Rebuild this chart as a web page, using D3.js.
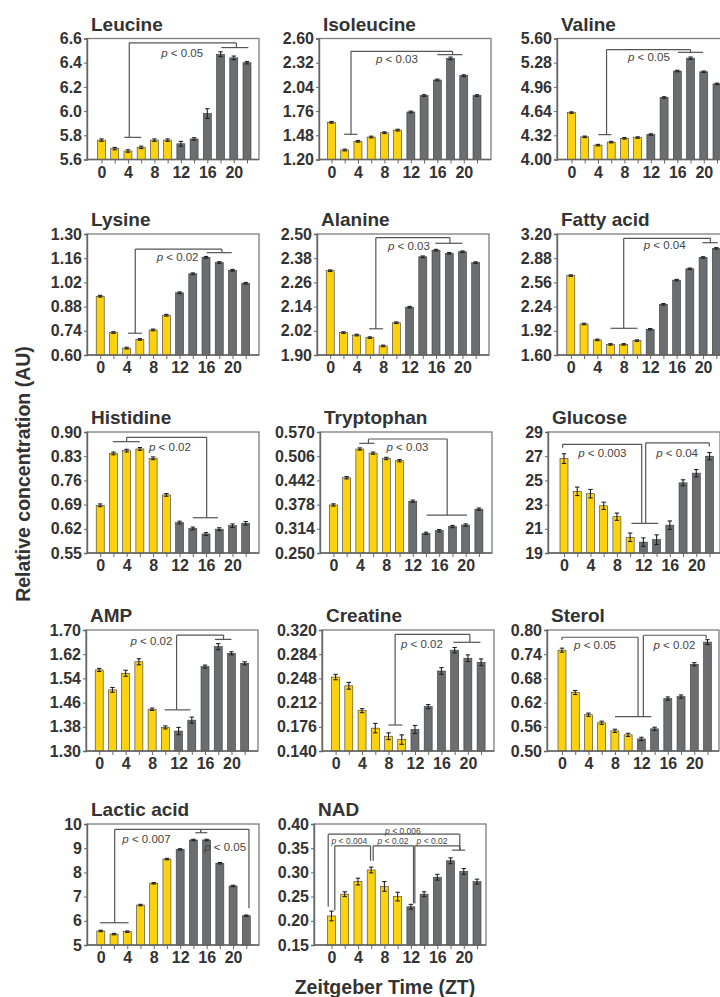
<!DOCTYPE html>
<html><head><meta charset="utf-8">
<script src="https://cdn.jsdelivr.net/npm/d3@7"></script>
<style>
body{margin:0;background:#fff}
svg text{font-family:"Liberation Sans",Arial,Helvetica,sans-serif;}
</style>
</head><body>
<svg id="c" width="720" height="997"></svg>
<script>
// ---------- DATA ----------
const zt = [0,2,4,6,8,10,12,14,16,18,20,22];
const xTickLabels = ["0","4","8","12","16","20"];
const titles = ["Leucine","Isoleucine","Valine","Lysine","Alanine","Fatty acid","Histidine","Tryptophan","Glucose","AMP","Creatine","Sterol","Lactic acid","NAD"];
const yAxisTitle = "Relative concentration (AU)";
const xAxisTitle = "Zeitgeber Time (ZT)";

const leucine = [5.76,5.69,5.67,5.70,5.76,5.76,5.73,5.77,5.98,6.47,6.44,6.40];
const leucineErr = [0.01,0.01,0.01,0.01,0.01,0.01,0.02,0.01,0.04,0.02,0.015,0.01];
const leucineTicks = ["5.6","5.8","6.0","6.2","6.4","6.6"];
const leucineSig = [{top:6.564,l:{x:4.2,y:5.783,cap:[3.45,6.0]},r:{x:20.4,y:6.525,cap:[18.1,22.2]}}];
const leucineP = [{x:12.2,y:6.483,t:"0.05"}];

const isoleucine = [1.63,1.31,1.41,1.46,1.51,1.54,1.75,1.94,2.12,2.37,2.17,1.94];
const isoleucineErr = [0.01,0.01,0.01,0.01,0.01,0.01,0.01,0.01,0.01,0.015,0.01,0.01];
const isoleucineTicks = ["1.20","1.48","1.76","2.04","2.32","2.60"];
const isoleucineSig = [{top:2.452,l:{x:2.95,y:1.492,cap:[1.9,3.9]},r:{x:18.3,y:2.413,cap:[16.0,19.8]}}];
const isoleucineP = [{x:9.9,y:2.367,t:"0.03"}];

const valine = [4.62,4.30,4.19,4.23,4.28,4.29,4.33,4.82,5.17,5.34,5.16,5.00];
const valineErr = [0.01,0.01,0.01,0.01,0.01,0.01,0.01,0.01,0.01,0.015,0.01,0.01];
const valineTicks = ["4.00","4.32","4.64","4.96","5.28","5.60"];
const valineSig = [{top:5.453,l:{x:5.3,y:4.329,cap:[4.05,6.0]},r:{x:18.0,y:5.417,cap:[16.1,19.9]}}];
const valineP = [{x:11.7,y:5.36,t:"0.05"}];

const lysine = [0.94,0.73,0.64,0.69,0.745,0.83,0.96,1.07,1.165,1.135,1.09,1.015];
const lysineErr = [0.005,0.005,0.005,0.005,0.005,0.005,0.005,0.005,0.005,0.005,0.005,0.005];
const lysineTicks = ["0.60","0.74","0.88","1.02","1.16","1.30"];
const lysineSig = [{top:1.213,l:{x:5.3,y:0.726,cap:[4.2,6.3]},r:{x:18.4,y:1.192,cap:[16.1,19.9]}}];
const lysineP = [{x:11.7,y:1.167,t:"0.02"}];

const alanine = [2.318,2.011,1.999,1.986,1.945,2.06,2.137,2.387,2.42,2.404,2.412,2.358];
const alanineErr = [0.004,0.004,0.004,0.004,0.004,0.004,0.004,0.004,0.004,0.004,0.004,0.004];
const alanineTicks = ["1.90","2.02","2.14","2.26","2.38","2.50"];
const alanineSig = [{top:2.482,l:{x:6.9,y:2.030,cap:[5.9,8.0]},r:{x:18.1,y:2.454,cap:[15.9,20.0]}}];
const alanineP = [{x:11.9,y:2.442,t:"0.03"}];

const fattyAcid = [2.65,2.01,1.80,1.74,1.74,1.79,1.94,2.27,2.59,2.74,2.89,3.01];
const fattyAcidErr = [0.01,0.01,0.01,0.01,0.01,0.01,0.01,0.01,0.01,0.01,0.01,0.01];
const fattyAcidTicks = ["1.60","1.92","2.24","2.56","2.88","3.20"];
const fattyAcidSig = [{top:3.143,l:{x:8.0,y:1.953,cap:[6.0,10.1]},r:{x:21.1,y:3.085,cap:[19.9,22.2]}}];
const fattyAcidP = [{x:14.2,y:3.055,t:"0.04"}];

const histidine = [0.688,0.838,0.846,0.851,0.824,0.718,0.638,0.621,0.605,0.619,0.629,0.636];
const histidineErr = [0.004,0.004,0.004,0.004,0.004,0.004,0.004,0.004,0.004,0.004,0.005,0.005];
const histidineTicks = ["0.55","0.62","0.69","0.76","0.83","0.90"];
const histidineSig = [{top:0.8847,l:{x:4.0,y:0.872,cap:[1.9,6.0]},r:{x:16.1,y:0.652,cap:[14.0,17.8]}}];
const histidineP = [{x:10.55,y:0.857,t:"0.02"}];

const tryptophan = [0.377,0.449,0.525,0.514,0.500,0.494,0.387,0.302,0.309,0.320,0.324,0.366];
const tryptophanErr = [0.003,0.003,0.003,0.003,0.003,0.003,0.003,0.003,0.003,0.003,0.003,0.003];
const tryptophanTicks = ["0.250","0.314","0.378","0.442","0.506","0.570"];
const tryptophanSig = [{top:0.5515,l:{x:5.3,y:0.540,cap:[3.9,6.2]},r:{x:17.2,y:0.350,cap:[14.1,20.2]}}];
const tryptophanP = [{x:11.2,y:0.530,t:"0.03"}];

const glucose = [26.8,24.1,23.9,22.9,22.0,20.3,19.9,20.1,21.3,24.8,25.6,27.0];
const glucoseErr = [0.4,0.35,0.35,0.3,0.3,0.35,0.35,0.4,0.35,0.25,0.3,0.3];
const glucoseTicks = ["19","21","23","25","27","29"];
const glucoseSig = [
  {top:27.98,l:{x:-0.2,y:27.7,cap:null},r:{x:11.75,y:21.45,cap:[10.2,14.25]}},
  {top:28.1,l:{x:12.35,y:21.45,cap:null},r:{x:21.97,y:27.8,cap:null}}
];
const glucoseP = [{x:5.8,y:27.24,t:"0.003"},{x:17.1,y:27.24,t:"0.04"}];

const amp = [1.568,1.502,1.557,1.595,1.438,1.378,1.366,1.402,1.579,1.645,1.623,1.59];
const ampErr = [0.005,0.008,0.01,0.01,0.004,0.005,0.012,0.01,0.005,0.01,0.005,0.005];
const ampTicks = ["1.30","1.38","1.46","1.54","1.62","1.70"];
const ampSig = [{top:1.683,l:{x:11.7,y:1.436,cap:[9.9,13.8]},r:{x:18.8,y:1.669,cap:[17.5,20.0]}}];
const ampP = [{x:7.9,y:1.665,t:"0.02"}];

const creatine = [0.250,0.237,0.200,0.174,0.162,0.157,0.172,0.206,0.259,0.290,0.278,0.272];
const creatineErr = [0.004,0.005,0.003,0.007,0.005,0.007,0.006,0.003,0.005,0.004,0.005,0.005];
const creatineTicks = ["0.140","0.176","0.212","0.248","0.284","0.320"];
const creatineSig = [{top:0.3136,l:{x:9.0,y:0.1787,cap:[8.0,10.1]},r:{x:20.3,y:0.3017,cap:[17.8,21.9]}}];
const creatineP = [{x:13.05,y:0.2987,t:"0.02"}];

const sterol = [0.75,0.645,0.59,0.57,0.55,0.54,0.53,0.555,0.63,0.635,0.715,0.77];
const sterolErr = [0.005,0.005,0.004,0.004,0.004,0.004,0.004,0.004,0.004,0.004,0.004,0.006];
const sterolTicks = ["0.50","0.56","0.62","0.68","0.74","0.80"];
const sterolSig = [
  {top:0.782,l:{x:0,y:0.775,cap:null},r:{x:11.5,y:0.585,cap:[8,13.5]}},
  {top:0.787,l:{x:12.3,y:0.585,cap:null},r:{x:21.8,y:0.779,cap:null}}
];
const sterolP = [{x:5,y:0.763,t:"0.05"},{x:17,y:0.763,t:"0.02"}];

const lacticAcid = [5.58,5.45,5.55,6.65,7.55,8.55,8.95,9.34,9.34,8.38,7.44,6.21];
const lacticAcidErr = [0.03,0.03,0.03,0.03,0.03,0.03,0.03,0.03,0.03,0.03,0.03,0.03];
const lacticAcidTicks = ["5","6","7","8","9","10"];
const lacticAcidSig = [
  {top:9.78,l:{x:2.1,y:5.92,cap:[-0.1,4.2]},r:{x:15.1,y:9.64,cap:[14.3,16.1]}},
  {top:9.78,l:{x:15.1,y:9.64,cap:null},r:{x:22.4,y:6.52,cap:null}}
];
const lacticAcidP = [{x:6.9,y:9.37,t:"0.007"},{x:18.8,y:9.06,t:"0.05"}];

const nad = [0.21,0.255,0.281,0.305,0.271,0.25,0.229,0.255,0.29,0.324,0.302,0.281];
const nadErr = [0.01,0.005,0.007,0.006,0.01,0.009,0.005,0.005,0.006,0.006,0.006,0.005];
const nadTicks = ["0.15","0.20","0.25","0.30","0.35","0.40"];
const nadSig = [
  {top:0.379,l:{x:-0.5,y:0.229,cap:null},r:{x:19.4,y:0.346,cap:[18.2,20.2]}},
  {top:0.355,l:{x:0.5,y:0.222,cap:null},r:{x:5.9,y:0.324,cap:null}},
  {top:0.355,l:{x:6.3,y:0.324,cap:null},r:{x:12.4,y:0.236,cap:null}},
  {top:0.355,l:{x:12.6,y:0.236,cap:null},r:{x:19.4,y:0.346,cap:null}}
];
const nadP = [{x:10.8,y:0.386,t:"0.006"},{x:2.7,y:0.365,t:"0.004"},{x:9.3,y:0.365,t:"0.02"},{x:15.2,y:0.365,t:"0.02"}];

const panelValues = [leucine,isoleucine,valine,lysine,alanine,fattyAcid,histidine,tryptophan,glucose,amp,creatine,sterol,lacticAcid,nad];
const panelErrors = [leucineErr,isoleucineErr,valineErr,lysineErr,alanineErr,fattyAcidErr,histidineErr,tryptophanErr,glucoseErr,ampErr,creatineErr,sterolErr,lacticAcidErr,nadErr];
const panelTicks = [leucineTicks,isoleucineTicks,valineTicks,lysineTicks,alanineTicks,fattyAcidTicks,histidineTicks,tryptophanTicks,glucoseTicks,ampTicks,creatineTicks,sterolTicks,lacticAcidTicks,nadTicks];
const panelSig = [leucineSig,isoleucineSig,valineSig,lysineSig,alanineSig,fattyAcidSig,histidineSig,tryptophanSig,glucoseSig,ampSig,creatineSig,sterolSig,lacticAcidSig,nadSig];
const panelP = [leucineP,isoleucineP,valineP,lysineP,alanineP,fattyAcidP,histidineP,tryptophanP,glucoseP,ampP,creatineP,sterolP,lacticAcidP,nadP];

// ---------- LAYOUT ----------
const layout = [
  {left:87,top:38.5,x0:14.5},{left:319,top:38.5,x0:12.5},{left:557,top:38.5,x0:14.5},
  {left:87,top:234,x0:13.2},{left:317,top:234,x0:13.2},{left:557,top:234,x0:13.8},
  {left:87,top:432,x0:13.2},{left:320,top:432,x0:13.4},{left:548,top:432,x0:16},
  {left:86,top:630,x0:13.2},{left:322,top:630,x0:13.6},{left:547,top:630,x0:15},
  {left:87,top:824,x0:13.8},{left:314,top:824,x0:17.5,pSize:8.5}
];
const W=172, H=121, SPAN=145.5, BW=8;
const YELLOW="#FCD20F", GREY="#6A6E71", OUT="#3a3a3a", TXT="#333";

const svg = d3.select("#c");

panelValues.forEach((vals,i)=>{
  const L = layout[i];
  const ticks = panelTicks[i];
  const g = svg.append("g");
  const x = d3.scaleLinear().domain([0,22]).range([L.left+L.x0, L.left+L.x0+SPAN]);
  const y = d3.scaleLinear().domain([+ticks[0], +ticks[ticks.length-1]]).range([L.top+H, L.top]);
  const errs = panelErrors[i];

  // frame (top/right)
  g.append("rect").attr("x",L.left).attr("y",L.top).attr("width",W).attr("height",H)
    .attr("fill","none").attr("stroke","#7d7d7d").attr("stroke-width",1.3);

  // bars
  g.selectAll("rect.bar").data(zt).enter().append("rect").attr("class","bar")
    .attr("x",d=>x(d)-BW/2).attr("width",BW)
    .attr("y",(d,j)=>y(vals[j])).attr("height",(d,j)=>y.range()[0]-y(vals[j]))
    .attr("fill",d=>d<12?YELLOW:GREY).attr("stroke",OUT).attr("stroke-width",0.6);

  // error bars
  const eg = g.append("g").attr("stroke","#222").attr("stroke-width",1.1);
  zt.forEach((d,j)=>{
    const xc=x(d), y1=y(vals[j]+errs[j]), y2=y(vals[j]-errs[j]);
    eg.append("line").attr("x1",xc).attr("x2",xc).attr("y1",y1).attr("y2",y2);
    eg.append("line").attr("x1",xc-2.2).attr("x2",xc+2.2).attr("y1",y1).attr("y2",y1);
    eg.append("line").attr("x1",xc-2.2).attr("x2",xc+2.2).attr("y1",y2).attr("y2",y2);
  });

  // y axis
  const ya = d3.axisLeft(y).tickValues(ticks.map(Number)).tickFormat((d,j)=>ticks[j]).tickSize(3).tickPadding(2);
  const yg = g.append("g").attr("transform",`translate(${L.left},0)`).call(ya);
  yg.select(".domain").attr("stroke","#666").attr("stroke-width",1.4);
  yg.selectAll(".tick line").attr("stroke","#666");
  yg.selectAll("text").attr("font-size",16).attr("font-weight","bold").attr("fill",TXT)
    .style("font-family","'Liberation Sans',Arial,sans-serif");

  // x axis
  const xa = d3.axisBottom(x).tickValues(zt).tickFormat(d=>xTickLabels.includes(String(d))?String(d):"").tickSize(4).tickPadding(3);
  const xg = g.append("g").attr("transform",`translate(0,${L.top+H})`).call(xa);
  xg.select(".domain").remove();
  xg.selectAll(".tick line").attr("stroke","#666");
  xg.selectAll("text").attr("font-size",16).attr("font-weight","bold").attr("fill",TXT)
    .style("font-family","'Liberation Sans',Arial,sans-serif");
  g.append("line").attr("x1",L.left).attr("x2",L.left+W).attr("y1",L.top+H).attr("y2",L.top+H)
    .attr("stroke","#666").attr("stroke-width",1.4);

  // title
  g.append("text").attr("x",L.left+4).attr("y",L.top-8).attr("font-size",19).attr("font-weight","bold")
    .attr("fill",TXT).text(titles[i]);

  // significance brackets
  const bg = g.append("g").attr("stroke","#555").attr("stroke-width",1.2).attr("fill","none");
  panelSig[i].forEach(b=>{
    bg.append("line").attr("x1",x(b.l.x)).attr("x2",x(b.r.x)).attr("y1",y(b.top)).attr("y2",y(b.top));
    [b.l,b.r].forEach(leg=>{
      bg.append("line").attr("x1",x(leg.x)).attr("x2",x(leg.x)).attr("y1",y(b.top)).attr("y2",y(leg.y));
      if(leg.cap) bg.append("line").attr("x1",x(leg.cap[0])).attr("x2",x(leg.cap[1])).attr("y1",y(leg.y)).attr("y2",y(leg.y));
    });
  });
  const ps = L.pSize || 11.5;
  panelP[i].forEach(p=>{
    const t = g.append("text").attr("x",x(p.x)).attr("y",y(p.y)).attr("text-anchor","middle")
      .attr("dominant-baseline","central").attr("font-size",ps).attr("fill","#444");
    t.append("tspan").attr("font-style","italic").text("p");
    t.append("tspan").text(" < "+p.t);
  });
});

// axis titles
svg.append("text").attr("transform","translate(23,474) rotate(-90)").attr("text-anchor","middle")
  .attr("dominant-baseline","central").attr("font-size",19.5).attr("font-weight","bold").attr("fill",TXT).text(yAxisTitle);
svg.append("text").attr("x",385).attr("y",994).attr("text-anchor","middle")
  .attr("font-size",19.5).attr("font-weight","bold").attr("fill",TXT).text(xAxisTitle);
</script>
</body></html>
